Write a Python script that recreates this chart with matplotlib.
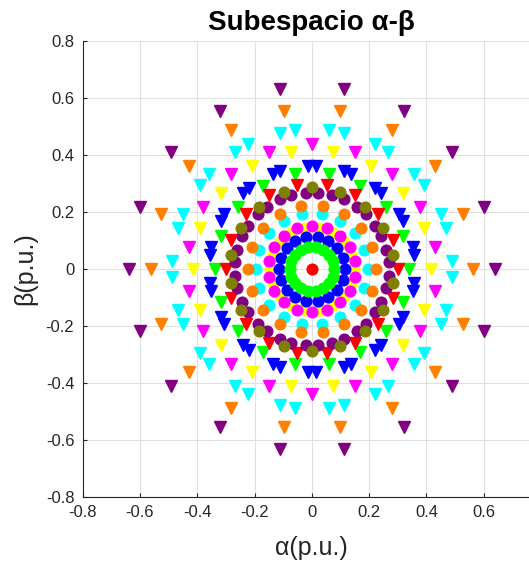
import numpy as np
import matplotlib
matplotlib.use("Agg")
import matplotlib.pyplot as plt

plt.rcParams['font.family'] = ['Liberation Sans', 'DejaVu Sans']

# ---- data (18-fold symmetric space-vector rings) ----
# Each group: colour, ring radius (p.u.), base angle (deg), half-split of pairs (deg)
SYM_ORDER = 18           # vectors repeat every 360/18 = 20 degrees

tri_colors = ['#800080', '#FF8000', '#00FFFF', '#FF00FF', '#FFFF00', '#0000FF', '#00FF00', '#FF0000']
tri_radii  = [0.640, 0.562, 0.490, 0.437, 0.416, 0.360, 0.338, 0.300]
tri_base   = [0, 0, 0, 10, 0, 10, 0, 0]
tri_split  = [0, 0, 3.1, 0, 0, 2.1, 0, 0]

cir_colors = ['#800080', '#808000', '#00FFFF', '#FF8000', '#FFFF00', '#FF00FF', '#0000FF', '#00FF00', '#FF0000']
cir_radii  = [0.269, 0.286, 0.195, 0.223, 0.146, 0.152, 0.115, 0.077, 0.0]
cir_base   = [10, 10, 0, 0, 0, 10, 0, 0, 0]
cir_split  = [4.5, 0, 0, 0, 0, 0, 0, 0, 0]

x_ticks = [-0.8, -0.6, -0.4, -0.2, 0, 0.2, 0.4, 0.6]
y_ticks = [-0.8, -0.6, -0.4, -0.2, 0, 0.2, 0.4, 0.6, 0.8]


def ring_points(r, base, split):
    if r == 0:
        return np.array([0.0]), np.array([0.0])
    step = 360.0 / SYM_ORDER
    ang = base + step * np.arange(SYM_ORDER)
    if split:
        ang = np.concatenate([ang - split, ang + split])
    a = np.deg2rad(ang)
    return r * np.cos(a), r * np.sin(a)


fig = plt.figure(figsize=(5.29, 5.63), dpi=100)
ax = fig.add_axes([82.7 / 529, 66 / 563, 458.3 / 529, 456 / 563])

for c, r, b, s in zip(tri_colors, tri_radii, tri_base, tri_split):
    x, y = ring_points(r, b, s)
    ax.plot(x, y, linestyle='none', marker='v', markersize=8, color=c,
            markeredgecolor=c, clip_on=False)

for c, r, b, s in zip(cir_colors, cir_radii, cir_base, cir_split):
    x, y = ring_points(r, b, s)
    ax.plot(x, y, linestyle='none', marker='o', markersize=7.7, color=c,
            markeredgecolor=c, clip_on=False)

ax.set_xlim(-0.8, 0.8)
ax.set_ylim(-0.8, 0.8)
ax.set_xticks(x_ticks)
ax.set_yticks(y_ticks)
ax.set_xticklabels([('%g' % v) for v in x_ticks])
ax.set_yticklabels([('%g' % v) for v in y_ticks])
ax.grid(True, color='#E0E0E0', linewidth=0.8)
ax.set_axisbelow(True)
for side in ['top', 'right']:
    ax.spines[side].set_visible(False)
for side in ['left', 'bottom']:
    ax.spines[side].set_color('#262626')
    ax.spines[side].set_linewidth(0.8)
ax.tick_params(direction='in', length=3, width=0.8, colors='#262626',
               labelsize=12, pad=6)
ax.set_xlabel('α(p.u.)', fontsize=18, color='#262626', labelpad=11)
ax.set_ylabel('β(p.u.)', fontsize=18, color='#262626', labelpad=6)
ax.set_title('Subespacio α-β', fontsize=20, fontweight='bold', color='black', pad=8)

fig.savefig('out.png', dpi=100)
